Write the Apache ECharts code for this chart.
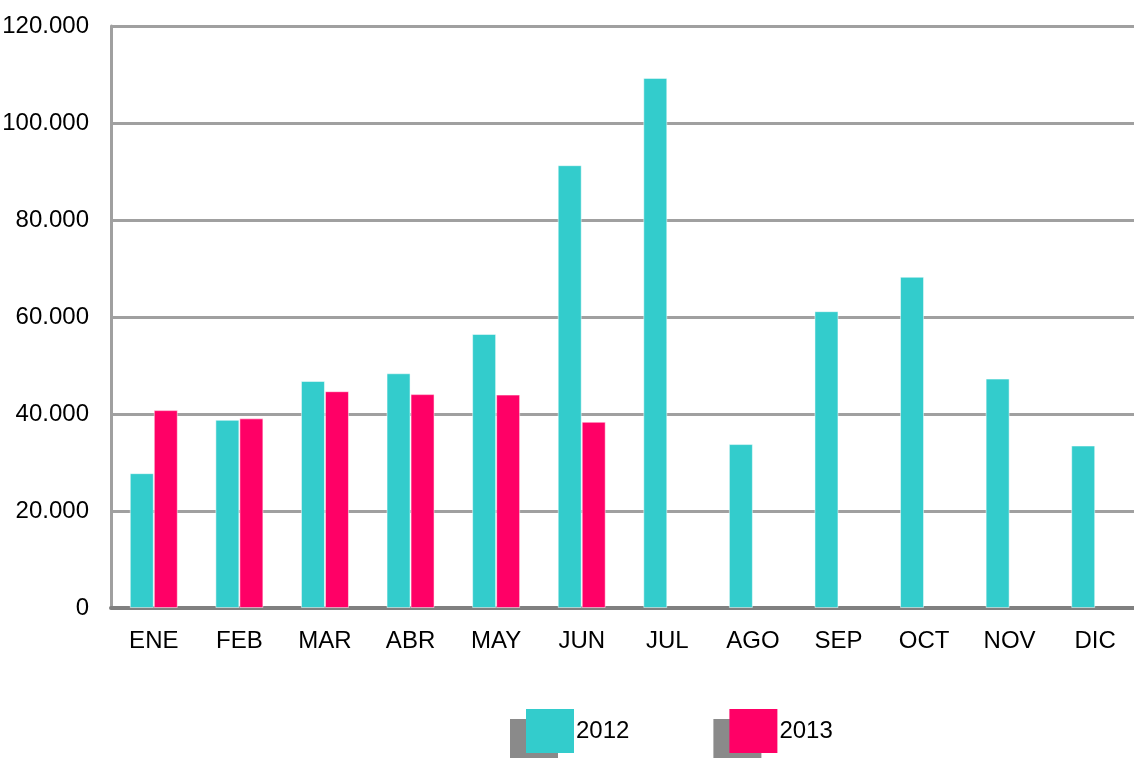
<!DOCTYPE html>
<html>
<head>
<meta charset="utf-8">
<script src="https://cdn.jsdelivr.net/npm/echarts@6/dist/echarts.min.js"></script>
<style>
  html, body { margin: 0; padding: 0; background: #fff; }
  #container { width: 1134px; height: 758px; }
</style>
</head>
<body>
<div id="container"></div>
<script>
var months = ['ENE', 'FEB', 'MAR', 'ABR', 'MAY', 'JUN', 'JUL', 'AGO', 'SEP', 'OCT', 'NOV', 'DIC'];
var values2012 = [27800, 38800, 46800, 48400, 56500, 91300, 109300, 33800, 61200, 68300, 47300, 33500];
var values2013 = [40800, 39100, 44700, 44100, 44000, 38400, null, null, null, null, null, null];
var seriesNames = ['2012', '2013'];
var seriesColors = ['#33CCCC', '#FF0066'];

var dom = document.getElementById("container");
var myChart = echarts.init(dom);
var font = "'Liberation Sans Narrow', 'Arial Narrow', 'Liberation Sans', sans-serif";

function fmt(v) {
    return String(v).replace(/\B(?=(\d{3})+(?!\d))/g, '.');
}

var option = {
    animation: false,
    textStyle: { fontFamily: font },
    grid: {
        left: 111,
        top: 26,
        right: -4,
        bottom: 150,
        outerBoundsMode: 'none'
    },
    legend: {
        left: 521,
        top: 704,
        itemWidth: 48,
        itemHeight: 44,
        itemGap: 100,
        selectedMode: false,
        icon: 'rect',
        data: seriesNames,
        itemStyle: {
            borderWidth: 0,
            shadowColor: '#8a8a8a',
            shadowBlur: 0,
            shadowOffsetX: -16,
            shadowOffsetY: 10
        },
        textStyle: { fontSize: 24, color: '#000', fontFamily: font, padding: [0, 0, 0, -3] }
    },
    xAxis: {
        type: 'category',
        data: months,
        axisTick: { show: false },
        axisLine: { lineStyle: { color: '#808080', width: 4 } },
        axisLabel: { fontSize: 24, color: '#000', margin: 21 }
    },
    yAxis: {
        type: 'value',
        min: 0,
        max: 120000,
        interval: 20000,
        axisLine: { show: true, lineStyle: { color: '#a0a0a0', width: 3 } },
        axisTick: { show: false },
        splitLine: { lineStyle: { color: '#a0a0a0', width: 3 } },
        axisLabel: {
            fontSize: 24,
            color: '#000',
            margin: 22,
            formatter: function (v) { return fmt(v); }
        }
    },
    series: [
        {
            name: seriesNames[0],
            type: 'bar',
            data: values2012,
            barWidth: 24,
            barGap: '0%',
            itemStyle: { color: seriesColors[0], borderColor: 'rgba(255,255,255,0.5)', borderWidth: 1 }
        },
        {
            name: seriesNames[1],
            type: 'bar',
            data: values2013,
            barWidth: 24,
            barGap: '0%',
            itemStyle: { color: seriesColors[1], borderColor: 'rgba(255,255,255,0.5)', borderWidth: 1 }
        }
    ]
};
myChart.setOption(option, true);
</script>
</body>
</html>
